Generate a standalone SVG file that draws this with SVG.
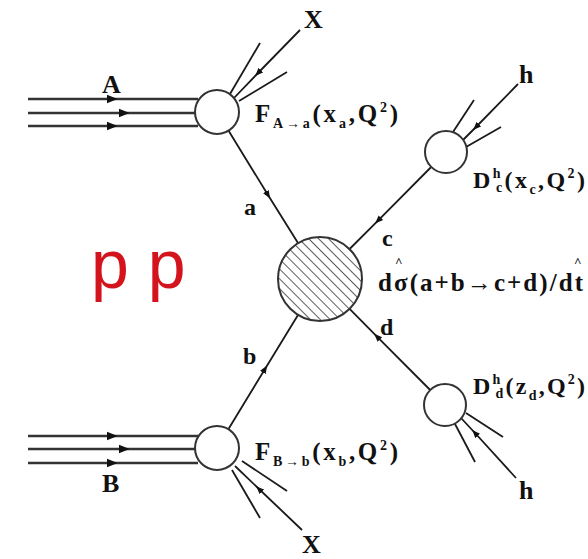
<svg xmlns="http://www.w3.org/2000/svg" width="588" height="559" viewBox="0 0 588 559">
<style>
.ln{stroke:#1a1a1a;stroke-width:1.8;fill:none}
.bm{stroke:#333;stroke-width:2.4;fill:none}
.arr{marker-mid:url(#ah)}
.circ{fill:#fff;stroke:#333;stroke-width:2}
.t{font-family:"Liberation Serif","Times New Roman",serif;font-weight:bold;fill:#111}
.pp{font-family:"Liberation Sans",Arial,sans-serif;fill:#d4141c}
</style>
<defs>
<marker id="ah" viewBox="0 0 10 10" refX="5" refY="5" markerWidth="4.5" markerHeight="4.5" orient="auto" markerUnits="strokeWidth">
<path d="M0,1 L10,5 L0,9 z" fill="#111"/>
</marker>
<pattern id="hatch" patternUnits="userSpaceOnUse" width="7" height="7" patternTransform="rotate(-45)">
<rect width="7" height="7" fill="#fff"/>
<line x1="0" y1="0" x2="0" y2="7" stroke="#333" stroke-width="1.6"/>
</pattern>
</defs>

<g id="connectors">
<path class="bm arr" d="M28,99 L112,99 L198,99"/>
<path class="bm arr" d="M28,113 L124,113 L197,113"/>
<path class="bm arr" d="M28,126 L112,126 L198,126"/>
<path class="bm arr" d="M28,436 L112,436 L198,436"/>
<path class="bm arr" d="M28,449 L124,449 L197,449"/>
<path class="bm arr" d="M28,463 L112,463 L198,463"/>
<path class="ln arr" d="M228.6,130.7 L268,195 L298,243"/>
<path class="ln arr" d="M228.5,429 L265,369 L298,315"/>
<path class="ln arr" d="M431.2,167 L378,220.6 L349.6,249"/>
<path class="ln arr" d="M430.2,390 L377,336.6 L349.6,308.8"/>
<path class="ln arr" d="M300,30 L258,73 L234,98"/>
<path class="ln" d="M230,94 L260,43"/>
<path class="ln" d="M239,101 L287,72"/>
<path class="ln arr" d="M518,84 L476,127 L463,140"/>
<path class="ln" d="M453,132 L474,100"/>
<path class="ln" d="M466,147 L501,127"/>
<path class="ln arr" d="M516,478 L475,433 L461,418"/>
<path class="ln" d="M466,413 L503,437"/>
<path class="ln" d="M455,424 L475,462"/>
<path class="ln arr" d="M302,530 L259,489 L235,466"/>
<path class="ln" d="M242,461 L287,491"/>
<path class="ln" d="M232,470 L260,518"/>
</g>

<g id="nodeA"><circle class="circ" cx="217" cy="112" r="22"/></g>
<g id="nodeB"><circle class="circ" cx="217" cy="448" r="22"/></g>
<g id="nodeHard"><circle cx="320" cy="279" r="42" fill="url(#hatch)" stroke="#333" stroke-width="2"/></g>
<g id="nodeC"><circle class="circ" cx="446" cy="152" r="21"/></g>
<g id="nodeD"><circle class="circ" cx="445" cy="405" r="21"/></g>

<g id="labels">
<text class="t" x="102" y="93" font-size="26">A</text>
<text class="t" x="102" y="492" font-size="26">B</text>
<text class="t" x="304" y="28" font-size="26">X</text>
<text class="t" x="302" y="553" font-size="26">X</text>
<text class="t" x="519" y="83" font-size="26">h</text>
<text class="t" x="519" y="499" font-size="26">h</text>
<text class="t" x="244" y="215" font-size="24">a</text>
<text class="t" x="243" y="364" font-size="24">b</text>
<text class="t" x="382" y="246" font-size="24">c</text>
<text class="t" x="380" y="335" font-size="24">d</text>
<text class="t" x="255" y="122" font-size="25" textLength="143" lengthAdjust="spacing">F<tspan font-size="14" dy="6">A→a</tspan><tspan dy="-6">(x</tspan><tspan font-size="14" dy="6">a</tspan><tspan dy="-6">,Q</tspan><tspan font-size="14" dy="-10">2</tspan><tspan dy="10">)</tspan></text>
<text class="t" x="255" y="460" font-size="25" textLength="143" lengthAdjust="spacing">F<tspan font-size="14" dy="6">B→b</tspan><tspan dy="-6">(x</tspan><tspan font-size="14" dy="6">b</tspan><tspan dy="-6">,Q</tspan><tspan font-size="14" dy="-10">2</tspan><tspan dy="10">)</tspan></text>
<text class="t" x="473" y="188" font-size="24" textLength="112" lengthAdjust="spacing">D<tspan font-size="14" dy="-10">h</tspan><tspan font-size="14" dx="-7" dy="14">c</tspan><tspan dy="-4">(x</tspan><tspan font-size="14" dy="6">c</tspan><tspan dy="-6">,Q</tspan><tspan font-size="14" dy="-10">2</tspan><tspan dy="10">)</tspan></text>
<text class="t" x="473" y="394" font-size="24" textLength="112" lengthAdjust="spacing">D<tspan font-size="14" dy="-10">h</tspan><tspan font-size="14" dx="-7" dy="14">d</tspan><tspan dy="-4">(z</tspan><tspan font-size="14" dy="6">d</tspan><tspan dy="-6">,Q</tspan><tspan font-size="14" dy="-10">2</tspan><tspan dy="10">)</tspan></text>
<text class="t" x="378" y="291" font-size="25" textLength="205" lengthAdjust="spacing">dσ(a+b→c+d)/dt</text>
<text class="t" x="395" y="266" font-size="13">^</text>
<text class="t" x="574" y="266" font-size="13">^</text>
<text class="pp" x="91" y="288" font-size="68">p p</text>
</g>
</svg>
